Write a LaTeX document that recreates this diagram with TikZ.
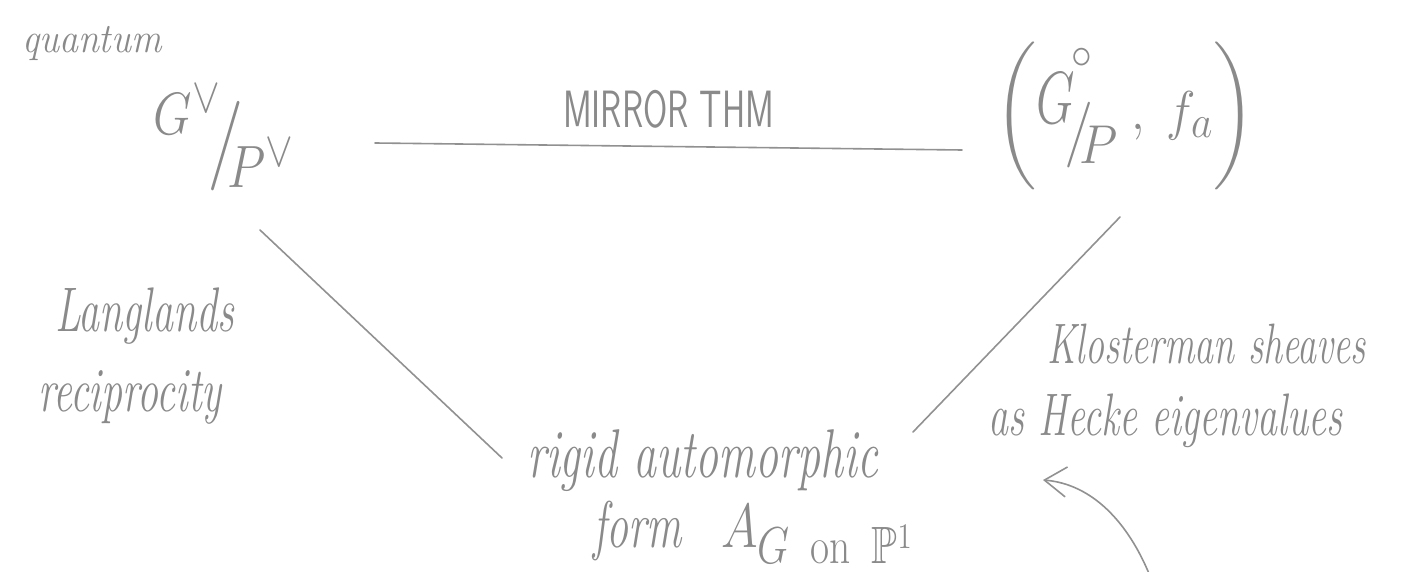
\documentclass[tikz,border=0pt]{standalone}
\usepackage{amsmath,amssymb}
\usepackage{graphicx}
\usetikzlibrary{arrows.meta}
\definecolor{pencil}{HTML}{8A8A8A}
\definecolor{pencilline}{HTML}{919191}
\newcommand{\tallbox}[2]{\scalebox{1}[#1]{#2}}
\begin{document}
\begin{tikzpicture}[x=0.5pt,y=-0.5pt,
  hand/.style={text=pencil, inner sep=0pt, outer sep=0pt},
  handline/.style={draw=pencilline, line width=0.8pt, line cap=round},
  handarrow/.style={handline, -{Straight Barb[length=11pt,width=15pt,line width=0.8pt]}}]
\useasboundingbox (0,0) rectangle (1406,572);

% texts
\node[hand, anchor=base west, font=\fontsize{19}{19}\selectfont\itshape] (quantum) at (22,53) {\tallbox{1.1}{quantum}};

\node[hand, font=\fontsize{32}{32}\selectfont] (Gv) at (224,138)
  {\tallbox{1.2}{$G^{\vee}\mkern-5mu\raisebox{-0.45em}{\scalebox{1.5}{$/$}}\mkern-6mu\raisebox{-0.7em}{$P^{\vee}$}$}};

\node[hand, font=\fontsize{28}{28}\selectfont] (GP) at (1125,116)
  {\tallbox{1.1}{$\biggl(\raisebox{0.1em}{\tallbox{1.35}{$G$}}\mkern-4mu\raisebox{-0.35em}{\scalebox{1.2}{$/$}}\llap{\raisebox{1.0em}{$\scriptstyle\circ$}\kern0.02em}\mkern-5mu\raisebox{-0.55em}{$P$}\;,\; f_{a}\biggr)$}};

\node[hand, anchor=base west, font=\fontsize{21}{21}\selectfont\itshape] (langlands) at (55,331) {\tallbox{1.5}{Langlands}};
\node[hand, anchor=base west, font=\fontsize{21}{21}\selectfont\itshape] (reciprocity) at (38,411) {\tallbox{1.5}{reciprocity}};

\node[hand, anchor=base west, font=\fontsize{23}{23}\selectfont\itshape] (rigid) at (527,477) {\tallbox{1.5}{rigid automorphic}};
\node[hand, anchor=base west, font=\fontsize{22}{22}\selectfont\itshape] (form) at (593,547)
  {\tallbox{1.5}{form}\hspace{0.9em}\fontsize{30}{30}\selectfont\tallbox{1.25}{$A_{G\ \mathrm{on}\ \mathbb{P}^{1}}$}};

\node[hand, anchor=base west, font=\fontsize{19}{19}\selectfont\itshape] (kloost) at (1047,363) {\tallbox{1.5}{Klosterman sheaves}};
\node[hand, anchor=base west, font=\fontsize{20}{20}\selectfont\itshape] (hecke) at (988,435) {\tallbox{1.5}{as Hecke eigenvalues}};

% connector end points
\coordinate (GvR) at (375,143);
\coordinate (GPL) at (962,150);
\coordinate (GvB) at (260,230);
\coordinate (rigidL) at (502,458);
\coordinate (GPB) at (1120,217);
\coordinate (rigidR) at (913,432);
\coordinate (arrowtail) at (1150,576);
\coordinate (arrowtip) at (1043,480);

\draw[handline] (GvR) -- node[hand, midway, above=9pt, font=\fontsize{17.5}{17.5}\selectfont\sffamily] (mirrorlabel) {\tallbox{1.5}{MIRROR THM}} (GPL);
\draw[handline] (GvB) -- (rigidL);
\draw[handline] (GPB) -- (rigidR);
\draw[handarrow] (arrowtail) .. controls (1128,522) and (1092,484) .. (arrowtip);
\end{tikzpicture}
\end{document}
